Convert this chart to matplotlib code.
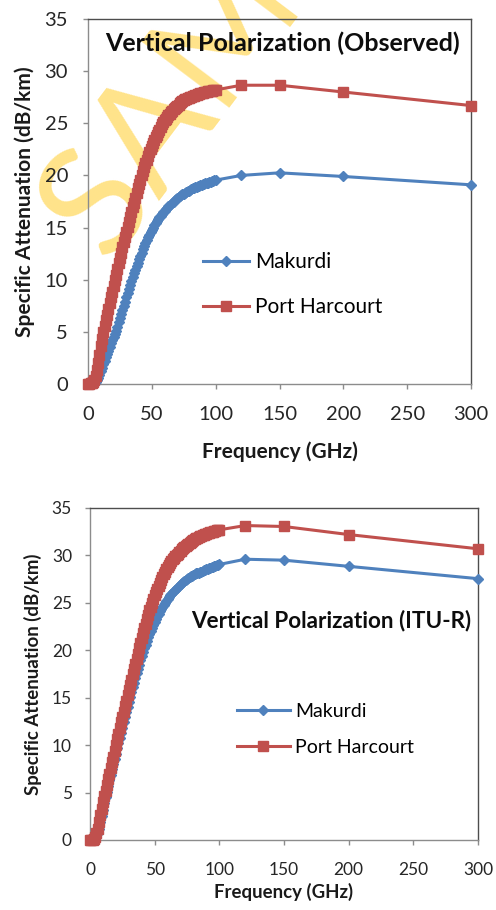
import matplotlib
matplotlib.use("Agg")
import matplotlib.pyplot as plt

plt.rcParams['font.family'] = ['Lato', 'DejaVu Sans']

# Frequency grid (GHz): 1 GHz sweep to 100 GHz, then sparse points
freq_dense = list(range(0, 101))
freq_sparse = [120, 150, 200, 300]
freq = freq_dense + freq_sparse

# Observed specific attenuation (dB/km)
makurdi_obs = [
    0.0, 0.0, 0.0, 0.0, 0.05, 0.1, 0.2, 0.4, 0.6, 0.9,
    1.2, 1.55, 1.9, 2.25, 2.6, 2.9, 3.2, 3.55, 3.9, 4.2,
    4.5, 4.8, 5.1, 5.5, 5.9, 6.3, 6.7, 7.1, 7.5, 7.9,
    8.3, 8.7, 9.1, 9.5, 9.9, 10.25, 10.6, 10.95, 11.3, 11.65,
    12.0, 12.3, 12.6, 12.9, 13.2, 13.5, 13.8, 14.05, 14.3, 14.55,
    14.8, 15.0, 15.2, 15.4, 15.6, 15.8, 16.0, 16.15, 16.3, 16.45,
    16.6, 16.75, 16.9, 17.05, 17.2, 17.3, 17.4, 17.5, 17.6, 17.7,
    17.8, 17.9, 18.0, 18.1, 18.2, 18.25, 18.3, 18.4, 18.5, 18.55,
    18.6, 18.7, 18.75, 18.8, 18.85, 18.9, 18.95, 19.0, 19.05, 19.1,
    19.15, 19.2, 19.25, 19.28, 19.3, 19.35, 19.4, 19.45, 19.5, 19.52,
    19.55,
    20.0, 20.25, 19.9, 19.1]
portharcourt_obs = [
    0.0, 0.0, 0.05, 0.1, 0.2, 0.4, 0.8, 1.3, 2.0, 2.8,
    3.6, 4.3, 5.0, 5.55, 6.1, 6.65, 7.2, 7.75, 8.3, 8.85,
    9.4, 9.95, 10.5, 11.05, 11.6, 12.1, 12.6, 13.1, 13.6, 14.1,
    14.6, 15.05, 15.5, 16.0, 16.5, 16.95, 17.4, 17.85, 18.3, 18.75,
    19.2, 19.6, 20.0, 20.4, 20.8, 21.15, 21.5, 21.85, 22.2, 22.5,
    22.8, 23.1, 23.4, 23.65, 23.9, 24.15, 24.4, 24.65, 24.9, 25.1,
    25.3, 25.45, 25.6, 25.75, 25.9, 26.05, 26.2, 26.35, 26.5, 26.6,
    26.7, 26.8, 26.9, 27.0, 27.1, 27.2, 27.3, 27.35, 27.4, 27.45,
    27.5, 27.55, 27.6, 27.65, 27.7, 27.75, 27.8, 27.85, 27.9, 27.92,
    27.95, 27.98, 28.0, 28.03, 28.05, 28.08, 28.1, 28.12, 28.15, 28.18,
    28.2,
    28.65, 28.65, 28.0, 26.7]

# ITU-R model specific attenuation (dB/km)
makurdi_itu = [
    0.0, 0.0, 0.0, 0.02, 0.1, 0.3, 0.7, 1.2, 1.9, 2.55,
    3.2, 3.85, 4.5, 5.1, 5.7, 6.3, 6.9, 7.45, 8.0, 8.55,
    9.1, 9.65, 10.2, 10.75, 11.3, 11.85, 12.4, 12.95, 13.5, 14.05,
    14.6, 15.1, 15.6, 16.1, 16.6, 17.1, 17.6, 18.05, 18.5, 18.95,
    19.4, 19.8, 20.2, 20.6, 21.0, 21.35, 21.7, 22.05, 22.4, 22.7,
    23.0, 23.3, 23.6, 23.85, 24.1, 24.35, 24.6, 24.8, 25.0, 25.2,
    25.4, 25.6, 25.8, 25.95, 26.1, 26.25, 26.4, 26.55, 26.7, 26.82,
    26.95, 27.08, 27.2, 27.3, 27.4, 27.5, 27.6, 27.7, 27.8, 27.88,
    27.95, 28.02, 28.1, 28.15, 28.2, 28.25, 28.3, 28.38, 28.45, 28.5,
    28.55, 28.6, 28.65, 28.7, 28.75, 28.8, 28.85, 28.9, 28.95, 29.0,
    29.05,
    29.6, 29.5, 28.85, 27.55]
portharcourt_itu = [
    0.0, 0.0, 0.05, 0.12, 0.3, 0.7, 1.2, 1.9, 2.6, 3.3,
    4.0, 4.6, 5.2, 5.8, 6.4, 7.0, 7.6, 8.2, 8.8, 9.4,
    10.0, 10.6, 11.2, 11.8, 12.4, 12.95, 13.5, 14.1, 14.7, 15.25,
    15.8, 16.35, 16.9, 17.45, 18.0, 18.55, 19.1, 19.65, 20.2, 20.75,
    21.3, 21.8, 22.3, 22.8, 23.3, 23.75, 24.2, 24.6, 25.0, 25.4,
    25.8, 26.15, 26.5, 26.8, 27.1, 27.4, 27.7, 28.0, 28.3, 28.55,
    28.8, 29.0, 29.2, 29.4, 29.6, 29.75, 29.9, 30.05, 30.2, 30.35,
    30.5, 30.65, 30.8, 30.9, 31.0, 31.12, 31.25, 31.35, 31.45, 31.55,
    31.65, 31.72, 31.8, 31.88, 31.95, 32.02, 32.1, 32.15, 32.2, 32.25,
    32.3, 32.35, 32.4, 32.45, 32.5, 32.52, 32.55, 32.6, 32.65, 32.68,
    32.7,
    33.15, 33.05, 32.2, 30.7]

series_names = ["Makurdi", "Port Harcourt"]
x_ticks = [0, 50, 100, 150, 200, 250, 300]
y_ticks = [0, 5, 10, 15, 20, 25, 30, 35]

BLUE = "#4F81BD"
RED = "#C0504D"
W, H = 496, 910

fig = plt.figure(figsize=(W / 100, H / 100), dpi=100)


def px_axes(left, top, right, bottom):
    ax = fig.add_axes([left / W, 1 - bottom / H, (right - left) / W, (bottom - top) / H])
    ax.patch.set_alpha(0.0)
    return ax


def style_axes(ax, fs_tick, fs_label, xpad, ypad, ylab_x, xlab_y):
    ax.set_xlim(0, 300)
    ax.set_ylim(0, 35)
    ax.set_xticks(x_ticks)
    ax.set_yticks(y_ticks)
    ax.tick_params(axis='both', direction='out', length=3.6, width=1,
                   color='#8C8C8C', labelsize=fs_tick, labelcolor='#262626')
    ax.tick_params(axis='x', pad=xpad)
    ax.tick_params(axis='y', pad=ypad)
    for side in ('left', 'bottom'):
        ax.spines[side].set_color('#8C8C8C')
        ax.spines[side].set_linewidth(1.0)
    for side in ('top', 'right'):
        ax.spines[side].set_color('#4D4D4D')
        ax.spines[side].set_linewidth(1.0)
    ax.set_xlabel("Frequency (GHz)", fontsize=fs_label, fontweight='bold',
                  color='#1a1a1a', va='center')
    ax.set_ylabel("Specific Attenuation (dB/km)", fontsize=fs_label, fontweight='bold',
                  color='#1a1a1a', va='center')
    ax.xaxis.set_label_coords(0.5, xlab_y)
    ax.yaxis.set_label_coords(ylab_x, 0.5)


def draw(ax, mk, ph):
    l1, = ax.plot(freq, mk, color=BLUE, lw=2.2, marker='D', ms=5.5,
                  mfc=BLUE, mec=BLUE, clip_on=False, zorder=3)
    l2, = ax.plot(freq, ph, color=RED, lw=2.2, marker='s', ms=6.8,
                  mfc=RED, mec=RED, clip_on=False, zorder=3)
    return l1, l2


# Top panel: observed
ax1 = px_axes(88, 19, 471, 384)
h1 = draw(ax1, makurdi_obs, portharcourt_obs)
style_axes(ax1, 14.5, 15, xpad=12, ypad=10.8, ylab_x=-0.1645, xlab_y=-0.186)
ax1.text(0.5065, 0.934, "Vertical Polarization (Observed)", transform=ax1.transAxes,
         ha='center', va='center', fontsize=18, fontweight='bold', color='#0d0d0d')
ax1.legend(h1, series_names, loc='upper left', bbox_to_anchor=(0.300, 0.362),
           frameon=False, fontsize=15, handlelength=2.2, numpoints=1,
           labelspacing=1.23, handletextpad=0.3, borderaxespad=0, borderpad=0)

# Bottom panel: ITU-R
ax2 = px_axes(90, 508, 478, 840)
h2 = draw(ax2, makurdi_itu, portharcourt_itu)
style_axes(ax2, 12.5, 13.4, xpad=12, ypad=9.4, ylab_x=-0.147, xlab_y=-0.157)
ax2.text(0.982, 0.66, "Vertical Polarization (ITU-R)", transform=ax2.transAxes,
         ha='right', va='center', fontsize=16.2, fontweight='bold', color='#0d0d0d')
ax2.legend(h2, series_names, loc='upper left', bbox_to_anchor=(0.379, 0.413),
           frameon=False, fontsize=14, handlelength=2.7, numpoints=1,
           labelspacing=0.96, handletextpad=0.3, borderaxespad=0, borderpad=0)

# Watermark behind the plots
fig.text(108 / W, 1 - 262 / H, "SAMPLE", rotation=53, fontsize=110, fontweight='normal',
         color='#FFE38A', ha='left', va='baseline', rotation_mode='anchor', zorder=-5)

fig.savefig("out.png", dpi=100)
